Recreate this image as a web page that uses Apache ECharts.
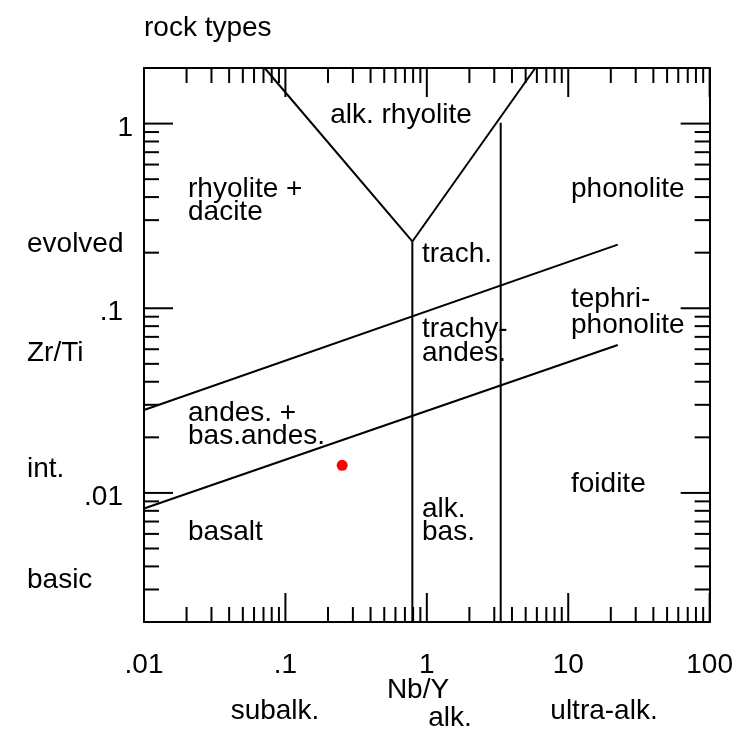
<!DOCTYPE html>
<html><head><meta charset="utf-8">
<script src="https://cdn.jsdelivr.net/npm/echarts@6/dist/echarts.min.js"></script>
<style>html,body{margin:0;padding:0;background:#fff}#c{width:736px;height:736px}</style>
</head><body><div id="c"></div><script>
// ---- axis definitions ----
const X_MIN = 0.01, X_MAX = 100;
const Y_MIN = 0.002, Y_MAX = 2;
const xMajor = [0.01, 0.1, 1, 10, 100];
const xLabels = ['.01', '.1', '1', '10', '100'];
const yMajor = [0.01, 0.1, 1];
const yLabels = ['.01', '.1', '1'];
const minorMult = [2, 3, 4, 5, 6, 7, 8, 9];
const xDecades = [0.01, 0.1, 1, 10];
const yDecades = [0.001, 0.01, 0.1, 1];

// ---- field boundaries (Nb/Y, Zr/Ti) ----
const leftArm = [[0.0713, 2], [0.79, 0.23]];
const rightArm = [[0.79, 0.23], [5.85, 2]];
const alkLine = [[0.79, 0.23], [0.79, 0.002]];
const ultraLine = [[3.33, 1.01], [3.33, 0.002]];
const upperLine = [[0.01, 0.0281], [22.4, 0.221]];
const lowerLine = [[0.01, 0.00823], [22.4, 0.0633]];

// ---- sample ----
const sample = [[0.252, 0.0141]];

// ---- tick table ----
const ticks = [];
xMajor.forEach(v => ticks.push([v, Y_MIN, 0, 1]));
xDecades.forEach(d => minorMult.forEach(m => { const v = +(d * m).toPrecision(3); if (v > X_MIN && v < X_MAX) ticks.push([v, Y_MIN, 0, 0]); }));
yMajor.forEach(v => ticks.push([X_MIN, v, 1, 1]));
yDecades.forEach(d => minorMult.forEach(m => { const v = +(d * m).toPrecision(3); if (v >= Y_MIN && v <= Y_MAX) ticks.push([X_MIN, v, 1, 0]); }));

const FONT = '"Liberation Sans", Arial, Helvetica, sans-serif';
const idx = (arr, v) => arr.findIndex(t => Math.abs(Math.log10(t) - Math.log10(v)) < 1e-6);
const fmtX = v => { const i = idx(xMajor, v); return i >= 0 ? xLabels[i] : ''; };
const fmtY = v => { const i = idx(yMajor, v); if (i < 0) return ''; const s = yLabels[i]; return s === '1' ? '{o|' + s + '}' : '{d|' + s + '}'; };

const axisLine = { show: true, lineStyle: { color: '#000', width: 2 } };
function logAxis(pos, min, max, label) {
  return {
    type: 'log', logBase: 10, min: min, max: max, position: pos,
    axisLine: axisLine, axisTick: { show: false }, splitLine: { show: false }, minorTick: { show: false },
    axisLabel: label || { show: false }
  };
}

function lineSeries(data) {
  return { type: 'line', data: data, symbol: 'none', silent: true,
    lineStyle: { color: '#000', width: 2 }, xAxisIndex: 0, yAxisIndex: 0, animation: false, z: 3 };
}

const DY = 2.5;
function txt(t, x, y, align) {
  return { type: 'text', x: x, y: y + DY, silent: true,
    style: { text: t, fill: '#000', font: '28px ' + FONT, textAlign: align || 'left', textVerticalAlign: 'middle' } };
}

const option = {
  animation: false,
  backgroundColor: '#fff',
  grid: { left: 144, right: 24, top: 68, bottom: 114, containLabel: false },
  xAxis: [
    logAxis('bottom', X_MIN, X_MAX, { show: true, formatter: fmtX, color: '#000', fontSize: 28, fontFamily: FONT, margin: 29 }),
    logAxis('top', X_MIN, X_MAX)
  ],
  yAxis: [
    logAxis('left', Y_MIN, Y_MAX, { show: true, formatter: fmtY, color: '#000', fontSize: 28, fontFamily: FONT, margin: 11,
      rich: {
        o: { fontSize: 28, fontFamily: FONT, color: '#000', padding: [9, 0, 0, 0] },
        d: { fontSize: 28, fontFamily: FONT, color: '#000', padding: [9, 10, 0, 0] }
      } }),
    logAxis('right', Y_MIN, Y_MAX)
  ],
  series: [
    {
      type: 'custom', xAxisIndex: 0, yAxisIndex: 0, data: ticks, clip: false, silent: true, z: 4,
      renderItem: function (params, api) {
        const a = api.value(0), b = api.value(1), kind = api.value(2), major = api.value(3);
        const L = major ? 29 : 15;
        const st = { stroke: '#000', lineWidth: 2 };
        if (kind === 0) {
          const p1 = api.coord([a, Y_MIN]), p2 = api.coord([a, Y_MAX]);
          return { type: 'group', children: [
            { type: 'line', shape: { x1: p1[0], y1: p1[1], x2: p1[0], y2: p1[1] - L }, style: st },
            { type: 'line', shape: { x1: p2[0], y1: p2[1], x2: p2[0], y2: p2[1] + L }, style: st }
          ] };
        } else {
          const p1 = api.coord([X_MIN, b]), p2 = api.coord([X_MAX, b]);
          return { type: 'group', children: [
            { type: 'line', shape: { x1: p1[0], y1: p1[1], x2: p1[0] + L, y2: p1[1] }, style: st },
            { type: 'line', shape: { x1: p2[0], y1: p2[1], x2: p2[0] - L, y2: p2[1] }, style: st }
          ] };
        }
      }
    },
    lineSeries(leftArm), lineSeries(rightArm), lineSeries(alkLine), lineSeries(ultraLine),
    lineSeries(upperLine), lineSeries(lowerLine),
    { type: 'scatter', data: sample, symbol: 'circle', symbolSize: 11, itemStyle: { color: '#ff0000', opacity: 1 }, z: 5, silent: true }
  ],
  graphic: [
    txt('rock types', 144, 26),
    txt('alk. rhyolite', 401, 113, 'center'),
    txt('rhyolite +', 188, 187),
    txt('dacite', 188, 210),
    txt('phonolite', 571, 187),
    txt('evolved', 27, 242),
    txt('trach.', 422, 252),
    txt('Zr/Ti', 27, 351),
    txt('tephri-', 571, 297),
    txt('phonolite', 571, 323),
    txt('trachy-', 422, 327),
    txt('andes.', 422, 351),
    txt('andes. +', 188, 411),
    txt('bas.andes.', 188, 434),
    txt('int.', 27, 467),
    txt('foidite', 571, 482),
    txt('alk.', 422, 507),
    txt('bas.', 422, 530),
    txt('basalt', 188, 530),
    txt('basic', 27, 578),
    txt('Nb/Y', 418, 688, 'center'),
    txt('subalk.', 275, 709, 'center'),
    txt('alk.', 450, 716, 'center'),
    txt('ultra-alk.', 604, 709, 'center')
  ]
};
echarts.init(document.getElementById('c'), null, { renderer: 'canvas' }).setOption(option);
</script></body></html>
